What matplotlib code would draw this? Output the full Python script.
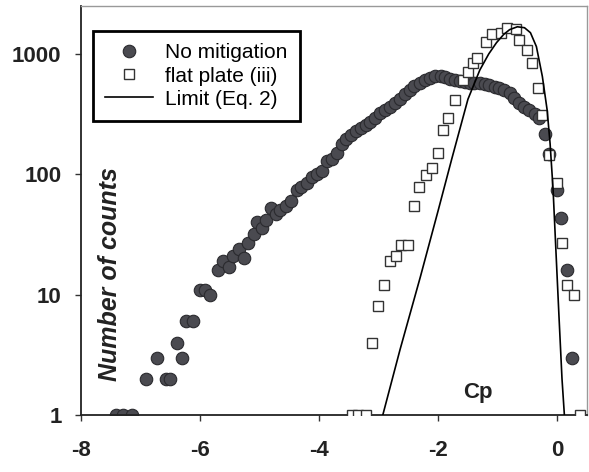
import matplotlib
matplotlib.use('Agg')
import matplotlib.pyplot as plt

plt.rcParams['font.family'] = ['Liberation Sans', 'DejaVu Sans']
plt.rcParams['axes.unicode_minus'] = False

# No mitigation (filled dots)
cp_none = [-7.42, -7.30, -7.15, -6.90, -6.72, -6.58, -6.50, -6.39, -6.30, -6.23,
           -6.12, -6.00, -5.92, -5.84, -5.70, -5.62, -5.52, -5.44, -5.35, -5.27,
           -5.20, -5.10, -5.04, -4.96, -4.90, -4.80, -4.72, -4.65, -4.55, -4.47,
           -4.37, -4.30, -4.20, -4.12, -4.03, -3.95, -3.86, -3.78, -3.70, -3.62,
           -3.54, -3.46, -3.38, -3.30, -3.22, -3.14, -3.06, -2.98, -2.90, -2.81,
           -2.72, -2.64, -2.56, -2.48, -2.40, -2.31, -2.22, -2.14, -2.05, -1.96,
           -1.88, -1.80, -1.72, -1.64, -1.55, -1.47, -1.39, -1.30, -1.22, -1.14,
           -1.05, -0.97, -0.89, -0.80, -0.72, -0.64, -0.55, -0.47, -0.38, -0.30,
           -0.20, -0.13, 0.00, 0.07, 0.17, 0.25]
n_none = [1, 1, 1, 2, 3, 2, 2, 4, 3, 6,
          6, 11, 11, 10, 16, 19, 17, 21, 24, 20,
          27, 32, 40, 36, 42, 52, 47, 50, 55, 60,
          74, 78, 84, 95, 100, 106, 128, 135, 150, 180,
          195, 212, 230, 240, 255, 270, 295, 325, 345, 365,
          390, 420, 460, 500, 540, 575, 610, 635, 650, 660,
          640, 620, 605, 590, 580, 575, 575, 570, 560, 550,
          535, 520, 500, 470, 430, 390, 360, 340, 315, 295,
          215, 148, 74, 43, 16, 3]

# flat plate (iii) (open squares)
cp_plate = [-3.45, -3.35, -3.22, -3.11, -3.01, -2.91, -2.81, -2.71, -2.63, -2.51,
            -2.41, -2.33, -2.21, -2.11, -2.01, -1.92, -1.84, -1.72, -1.59, -1.50,
            -1.42, -1.34, -1.19, -1.09, -0.94, -0.84, -0.69, -0.64, -0.50, -0.42,
            -0.33, -0.25, -0.13, 0.00, 0.08, 0.17, 0.28, 0.39]
n_plate = [1, 1, 1, 4, 8, 12, 19, 21, 26, 26,
           55, 79, 99, 113, 150, 233, 294, 415, 610, 710,
           845, 930, 1250, 1450, 1500, 1650, 1600, 1300, 1075, 845,
           520, 310, 145, 85, 27, 12, 10, 1]

# Limit (Eq. 2)
cp_limit = [-2.93, -2.64, -2.30, -2.00, -1.77, -1.50, -1.30, -1.15, -1.02, -0.90,
            -0.80, -0.67, -0.55, -0.45, -0.35, -0.25, -0.17, -0.12, -0.07, -0.02,
            0.03, 0.08, 0.12]
n_limit = [1, 3.5, 14, 50, 135, 420, 735, 1000, 1240, 1450,
           1590, 1680, 1650, 1500, 1150, 650, 343, 180, 75, 22,
           6.5, 2, 1]

fig = plt.figure(figsize=(5.89, 4.72), dpi=100)
ax = fig.add_axes([0.1375, 0.1208, 0.8591, 0.8665])

ax.plot(cp_none, n_none, 'o', ms=9, mfc='#4a4a50', mec='#2a2a2e', mew=0.8,
        label='No mitigation', zorder=2)
ax.plot(cp_plate, n_plate, 's', ms=7.5, mfc='white', mec='#333333', mew=1.0,
        label='flat plate (iii)', zorder=3)
ax.plot(cp_limit, n_limit, '-', color='black', lw=1.2, label='Limit (Eq. 2)', zorder=4)

ax.set_yscale('log')
ax.set_xlim(-8, 0.5)
ax.set_ylim(1, 2500)
ax.set_xticks([-8, -6, -4, -2, 0])
ax.set_yticks([1, 10, 100, 1000])
ax.set_yticklabels(['1', '10', '100', '1000'])
ax.minorticks_off()

ax.tick_params(axis='both', direction='out', length=4, width=1, color='#333333',
               labelsize=16)
ax.tick_params(axis='x', pad=14)
ax.tick_params(axis='y', pad=10)
for lab in ax.get_xticklabels() + ax.get_yticklabels():
    lab.set_fontweight('bold')
    lab.set_color('#222222')

for side in ['left', 'bottom']:
    ax.spines[side].set_color('#222222')
    ax.spines[side].set_linewidth(1.3)
for side in ['top', 'right']:
    ax.spines[side].set_color('#999999')
    ax.spines[side].set_linewidth(1.0)

ax.text(0.058, 0.345, 'Number of counts', transform=ax.transAxes, rotation=90,
        fontsize=18, fontweight='bold', fontstyle='italic', color='#222222',
        ha='center', va='center')
ax.text(0.785, 0.056, 'Cp', transform=ax.transAxes, fontsize=16,
        fontweight='bold', color='#222222', ha='center', va='center')

leg = ax.legend(loc='upper left', bbox_to_anchor=(0.0237, 0.939), fontsize=15,
                frameon=True, fancybox=False, framealpha=1, edgecolor='black',
                borderpad=0.6, labelspacing=0.2, handlelength=2.3,
                handletextpad=0.55, borderaxespad=0)
leg.get_frame().set_linewidth(2.0)

fig.savefig('out.png', dpi=100)
